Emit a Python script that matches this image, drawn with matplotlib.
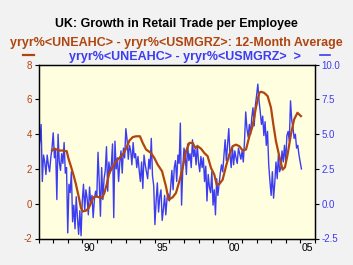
import numpy as np
import matplotlib.pyplot as plt
from matplotlib.lines import Line2D

plt.rcParams['font.family'] = ['Liberation Sans', 'DejaVu Sans']

# monthly growth, Jan 1987 .. Feb 2005 (right axis units)
blue_vals = [
    3.9, 4.5, 5.7, 1.6, 3.5, 3.0, 2.1, 3.5, 2.8, 2.3, 3.3, 4.0,   # 1987
    5.1, 3.3, 3.9, 0.3, 5.0, 3.0, 2.4, 3.6, 2.9, 4.4, 2.2, 2.6,   # 1988
    -2.1, 1.4, 0.8, 2.3, -1.3, -0.1, -1.8, 0.5, -1.0, -2.2, -0.5, -2.3,  # 1989
    0.2, 1.4, -0.5, 1.0, 0.4, -0.8, 1.2, 0.0, 0.6, -1.0, 0.3, 0.9,  # 1990
    0.5, 3.7, 1.6, -0.9, 2.6, 0.3, 1.8, 2.4, 4.1, 0.9, 3.0, 2.2,  # 1991
    2.8, 4.3, -1.0, 4.5, 2.5, 3.3, 1.6, 3.0, 3.8, 2.2, 4.0, 3.3,  # 1992
    5.4, 4.6, 3.2, 4.2, 3.8, 2.8, 4.4, 3.3, 3.6, 2.6, 3.4, 2.4,   # 1993
    1.6, 3.0, 1.1, 3.5, 2.8, 2.3, 1.8, 3.2, 2.5, 4.7, 2.0, 1.3,   # 1994
    -1.5, 0.2, 1.5, -0.6, 0.5, 1.0, -1.2, -0.4, 0.6, -0.8, 0.4, 0.7,  # 1995
    0.2, 1.2, 2.4, 1.0, 2.6, 3.1, 1.6, 3.5, 2.9, 5.8, -0.1, 2.5,  # 1996
    4.0, 3.5, 2.1, 4.3, 3.1, 3.6, 2.6, 4.6, 3.4, 3.9, 2.8, 4.2,   # 1997
    3.0, 2.3, 3.4, 2.6, 3.3, 1.6, 2.7, 0.2, 2.1, 1.2, 0.8, 2.3,   # 1998
    -0.1, 1.0, -0.8, 1.8, 0.6, 1.4, 2.2, 2.8, 2.3, 3.5, 4.6, 3.1,  # 1999
    4.2, 5.4, 3.5, 2.6, 4.1, 2.8, 3.8, 3.3, 2.9, 4.0, 3.6, 3.2,   # 2000
    3.8, 3.0, 4.5, 6.6, 5.4, 4.8, 5.7, 5.0, 6.2, 6.9, 5.6, 7.1,   # 2001
    7.8, 8.6, 7.4, 6.6, 5.7, 6.3, 4.9, 5.9, 4.2, 5.2, 2.8, 1.6,   # 2002
    0.6, 2.3, 0.4, 1.5, 3.0, 1.8, 3.5, 2.3, 2.6, 3.8, 3.0, 4.2,   # 2003
    3.0, 4.9, 5.2, 4.5, 7.4, 6.0, 5.5, 4.7, 5.0, 4.0, 4.2, 3.5,   # 2004
    3.0, 2.5,                                                     # 2005
]
blue_dates = [1987 + i / 12 for i in range(len(blue_vals))]

# 12-month average (left axis units)
avg_dates = [1987.92, 1988.08, 1988.24, 1988.42, 1988.65, 1988.93, 1989.04, 1989.22,
             1989.39, 1989.57, 1989.75, 1989.91, 1990.03, 1990.26, 1990.44, 1990.60,
             1990.76, 1990.94, 1991.17, 1991.36, 1991.52, 1991.68, 1991.86, 1992.09,
             1992.32, 1992.55, 1992.83, 1993.06, 1993.24, 1993.47, 1993.70, 1993.97,
             1994.16, 1994.39, 1994.73, 1994.96, 1995.19, 1995.49, 1995.76, 1995.94,
             1996.22, 1996.45, 1996.68, 1996.91, 1997.14, 1997.37, 1997.60, 1997.78,
             1997.94, 1998.17, 1998.40, 1998.63, 1998.86, 1999.09, 1999.25, 1999.43,
             1999.66, 1999.89, 2000.12, 2000.35, 2000.58, 2000.81, 2001.04, 2001.27,
             2001.50, 2001.72, 2001.95, 2002.18, 2002.30, 2002.52, 2002.76, 2002.99,
             2003.15, 2003.33, 2003.56, 2003.79, 2003.95, 2004.13, 2004.36, 2004.58,
             2004.81, 2005.05]
avg_vals = [3.06, 3.17, 3.12, 3.06, 3.06, 3.02, 2.63, 2.15,
            1.67, 1.10, 0.42, -0.25, -0.44, -0.40, -0.25, 0.04,
            0.37, 0.42, 0.37, 0.33, 0.62, 1.10, 1.77, 2.10,
            2.44, 2.63, 2.87, 3.25, 3.63, 3.83, 3.88, 3.88,
            3.50, 3.12, 2.92, 2.63, 2.25, 1.87, 1.00, 0.23,
            0.37, 0.62, 1.29, 2.06, 3.02, 3.50, 3.50, 3.21,
            3.31, 3.17, 2.92, 2.73, 2.06, 1.67, 1.10, 1.13,
            1.38, 2.15, 2.83, 3.31, 3.40, 3.31, 3.06, 3.12,
            3.88, 4.46, 5.52, 6.38, 6.44, 6.38, 6.19, 5.52,
            4.56, 3.60, 2.73, 1.96, 2.10, 2.83, 3.98, 4.85,
            5.23, 5.04]

left_ticks = [-2, 0, 2, 4, 6, 8]
right_ticks = [-2.5, 0.0, 2.5, 5.0, 7.5, 10.0]
year_labels = ['90', '95', '00', '05']
label_years = [1990, 1995, 2000, 2005]

orange = '#b04510'
blue = '#3c3cf0'

fig = plt.figure(figsize=(3.53, 2.65), dpi=100, facecolor='#f2f2f2')
ax = fig.add_axes([0.1096, 0.100, 0.782, 0.656])
ax2 = ax.twinx()

ax2.plot(blue_dates, blue_vals, color=blue, lw=1.0)
ax.plot(avg_dates, avg_vals, color=orange, lw=1.6)

# orange line on top of blue, yellow background behind both
ax.set_zorder(ax2.get_zorder() + 1)
ax.patch.set_visible(False)
ax2.patch.set_visible(True)
ax2.set_facecolor('#ffffe0')

ax.set_xlim(1987, 2006)
ax.set_ylim(-2, 8)
ax2.set_ylim(-2.5, 10)

ax.set_yticks(left_ticks)
ax.set_yticklabels([str(t) for t in left_ticks])
ax2.set_yticks(right_ticks)
ax2.set_yticklabels(['%.1f' % t for t in right_ticks])

ax.set_xticks(range(1987, 2007))
ax.set_xticklabels([])
ax.set_xticks([y + 0.5 for y in label_years], minor=True)
ax.set_xticklabels(year_labels, minor=True)
ax.tick_params(axis='x', which='major', length=3, width=0.8, direction='out')
ax.tick_params(axis='x', which='minor', length=0, labelsize=7.5, pad=3)

ax.tick_params(axis='y', length=3, width=0.8, labelsize=7, labelcolor=orange, pad=2)
ax2.tick_params(axis='y', length=3, width=0.8, labelsize=7, labelcolor=blue, pad=2)
ax2.tick_params(axis='x', which='both', length=0)

for a in (ax, ax2):
    for s in a.spines.values():
        s.set_linewidth(0.9)
        s.set_color('black')

fig.text(0.5, 0.908, 'UK: Growth in Retail Trade per Employee', ha='center', va='center',
         fontsize=8.9, fontweight='bold', color='black')
fig.text(0.5, 0.836, 'yryr%<UNEAHC> - yryr%<USMGRZ>: 12-Month Average', ha='center',
         va='center', fontsize=9, fontweight='bold', color=orange)
fig.text(0.523, 0.785, 'yryr%<UNEAHC> - yryr%<USMGRZ>  >', ha='center', va='center',
         fontsize=9, fontweight='bold', color=blue)
fig.add_artist(Line2D([0.065, 0.095], [0.793, 0.793], color=orange, lw=1.6))
fig.add_artist(Line2D([0.906, 0.936], [0.793, 0.793], color=blue, lw=1.2))

fig.savefig('out.png', dpi=100, facecolor=fig.get_facecolor())
